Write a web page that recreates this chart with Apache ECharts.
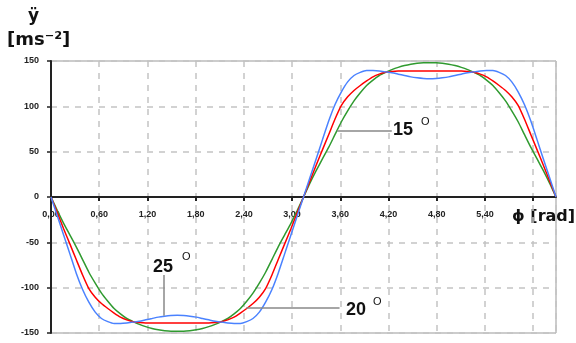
<!DOCTYPE html>
<html>
<head>
<meta charset="utf-8">
<script src="https://cdn.jsdelivr.net/npm/echarts@6/dist/echarts.min.js"></script>
<style>
html,body{margin:0;padding:0;background:#fff;}
#chart{width:576px;height:343px;}
</style>
</head>
<body>
<div id="chart"></div>
<script>
// phi [rad]
var phi = [0, 0.079, 0.157, 0.236, 0.314, 0.393, 0.471, 0.550, 0.628, 0.707, 0.785,
	0.864, 0.942, 1.021, 1.100, 1.178, 1.257, 1.335, 1.414, 1.492, 1.571,
	1.650, 1.728, 1.807, 1.885, 1.963, 2.042, 2.121, 2.199, 2.278, 2.356,
	2.435, 2.513, 2.592, 2.670, 2.749, 2.827, 2.906, 2.985, 3.063, 3.142,
	3.220, 3.299, 3.377, 3.456, 3.534, 3.613, 3.691, 3.770, 3.848, 3.927,
	4.006, 4.084, 4.163, 4.241, 4.320, 4.398, 4.477, 4.555, 4.634, 4.712,
	4.791, 4.869, 4.948, 5.027, 5.105, 5.184, 5.262, 5.341, 5.419, 5.498,
	5.576, 5.655, 5.733, 5.812, 5.890, 5.969, 6.048, 6.126, 6.205, 6.283];
// 15 deg (green)
var acc15 = [0, -15, -29, -42, -55, -69, -83, -95, -106, -115, -123,
	-129, -134, -137.5, -140.5, -143, -145, -146.5, -147.5, -148, -148,
	-148, -147.5, -146.5, -145, -143, -140.5, -137.5, -134, -129, -123,
	-115, -106, -95, -83, -69, -55, -42, -29, -15, 0,
	15, 29, 42, 55, 69, 83, 95, 106, 115, 123,
	129, 134, 137.5, 140.5, 143, 145, 146.5, 147.5, 148, 148,
	148, 147.5, 146.5, 145, 143, 140.5, 137.5, 134, 129, 123,
	115, 106, 95, 83, 69, 55, 42, 29, 15, 0];
// 20 deg (red)
var acc20 = [0, -17.5, -35, -52, -69, -86, -101, -110.5, -117.5, -123, -128,
	-132.5, -135.5, -137.5, -138.5, -139, -139, -139, -139, -139, -139,
	-139, -139, -139, -139, -139, -138.5, -137.5, -135.5, -132.5, -128,
	-123, -117.5, -110.5, -101, -86, -69, -52, -35, -17.5, 0,
	17.5, 35, 52, 69, 86, 101, 110.5, 117.5, 123, 128,
	132.5, 135.5, 137.5, 138.5, 139, 139, 139, 139, 139, 139,
	139, 139, 139, 139, 139, 138.5, 137.5, 135.5, 132.5, 128,
	123, 117.5, 110.5, 101, 86, 69, 52, 35, 17.5, 0];
// 25 deg (blue)
var acc25 = [0, -21, -42, -63, -84, -102, -116, -127, -134, -137.5, -139.5,
	-139.5, -139, -138, -137, -135.5, -134, -132.5, -131.5, -130.8, -130.5,
	-130.8, -131.5, -132.5, -134, -135.5, -137, -138, -139, -139.5, -139.5,
	-137.5, -134, -127, -116, -102, -84, -63, -42, -21, 0,
	21, 42, 63, 84, 102, 116, 127, 134, 137.5, 139.5,
	139.5, 139, 138, 137, 135.5, 134, 132.5, 131.5, 130.8, 130.5,
	130.8, 131.5, 132.5, 134, 135.5, 137, 138, 139, 139.5, 139.5,
	137.5, 134, 127, 116, 102, 84, 63, 42, 21, 0];

var yTicks = [-150, -100, -50, 0, 50, 100, 150];
var xTickStep = 0.6;
var xLastLabel = 5.4;

// leader lines for the curve labels [phi, y]
var lead15 = [[3.56, 73], [4.24, 73]];
var lead20 = [[2.43, -122], [3.59, -122]];
var lead25 = [[1.40, -86], [1.40, -131]];

function pairs(xs, ys){
	var out = [];
	for(var i=0;i<xs.length;i++){
		out.push([xs[i], ys[i]]);
	}
	return out;
}

function leader(p){
	return {
		silent: true,
		symbol: 'none',
		label: {show: false},
		lineStyle: {color: '#888', width: 1.5, type: 'solid'},
		data: [[{coord: p[0]}, {coord: p[1]}]]
	};
}

var gridTop = 61, gridBottom = 10, chartH = 343;
// x axis sits on y = 0, which is the middle of the plot
var zeroOffset = -(chartH - gridTop - gridBottom) / 2;

var chart = echarts.init(document.getElementById('chart'));

var tickFont = {fontFamily: 'Liberation Sans', fontWeight: 'bold', fontSize: 9, color: '#222'};

var option = {
	animation: false,
	grid: {
		left: 51, right: 20, top: gridTop, bottom: gridBottom,
		show: true, borderColor: '#999', borderWidth: 1
	},
	xAxis: {
		type: 'value',
		min: 0,
		max: 6.2832,
		interval: xTickStep,
		position: 'bottom',
		offset: zeroOffset,
		axisLine: {onZero: false, lineStyle: {color: '#222', width: 2}},
		axisTick: {length: 4, lineStyle: {color: '#222', width: 2}},
		axisLabel: Object.assign({
			margin: 13,
			showMaxLabel: false,
			formatter: function(v){
				if(v > xLastLabel + 0.01) return '';
				return v.toFixed(2).replace('.', ',');
			}
		}, tickFont),
		splitLine: {show: true, lineStyle: {color: '#c4c4c4', width: 1.5, type: [6, 6]}}
	},
	yAxis: {
		type: 'value',
		min: yTicks[0],
		max: yTicks[yTicks.length-1],
		interval: 50,
		axisLine: {show: true, lineStyle: {color: '#222', width: 2}},
		axisTick: {show: true, length: 4, lineStyle: {color: '#222', width: 1.5}},
		axisLabel: Object.assign({margin: 12}, tickFont),
		splitLine: {show: true, lineStyle: {color: '#c4c4c4', width: 1.5, type: [6, 6]}}
	},
	series: [
		{
			name: '15', type: 'line', data: pairs(phi, acc15), smooth: 0.2,
			showSymbol: false, lineStyle: {color: '#2f9a2f', width: 1.5},
			markLine: leader(lead15)
		},
		{
			name: '20', type: 'line', data: pairs(phi, acc20), smooth: 0.2,
			showSymbol: false, lineStyle: {color: '#ff0000', width: 1.5},
			markLine: leader(lead20)
		},
		{
			name: '25', type: 'line', data: pairs(phi, acc25), smooth: 0.2,
			showSymbol: false, lineStyle: {color: '#4a82ff', width: 1.5},
			markLine: leader(lead25)
		}
	],
	graphic: [
		{type: 'text', left: 28, top: 8, style: {text: 'ÿ', font: 'bold 17px "DejaVu Sans"', fill: '#111'}},
		{type: 'text', left: 7, top: 31, style: {text: '[ms⁻²]', font: 'bold 18px "DejaVu Sans"', fill: '#111'}},
		{type: 'text', left: 512, top: 209, style: {text: 'ϕ [rad]', font: 'bold 16px "DejaVu Sans"', fill: '#111'}},
		{type: 'text', left: 393, top: 121, style: {text: '15', font: 'bold 18px "Liberation Sans"', fill: '#111'}},
		{type: 'text', left: 421, top: 116, style: {text: 'O', font: '11px "Liberation Sans"', fill: '#111'}},
		{type: 'text', left: 153, top: 258, style: {text: '25', font: 'bold 18px "Liberation Sans"', fill: '#111'}},
		{type: 'text', left: 182, top: 251, style: {text: 'O', font: '11px "Liberation Sans"', fill: '#111'}},
		{type: 'text', left: 346, top: 301, style: {text: '20', font: 'bold 18px "Liberation Sans"', fill: '#111'}},
		{type: 'text', left: 373, top: 296, style: {text: 'O', font: '11px "Liberation Sans"', fill: '#111'}}
	]
};
chart.setOption(option);
</script>
</body>
</html>
